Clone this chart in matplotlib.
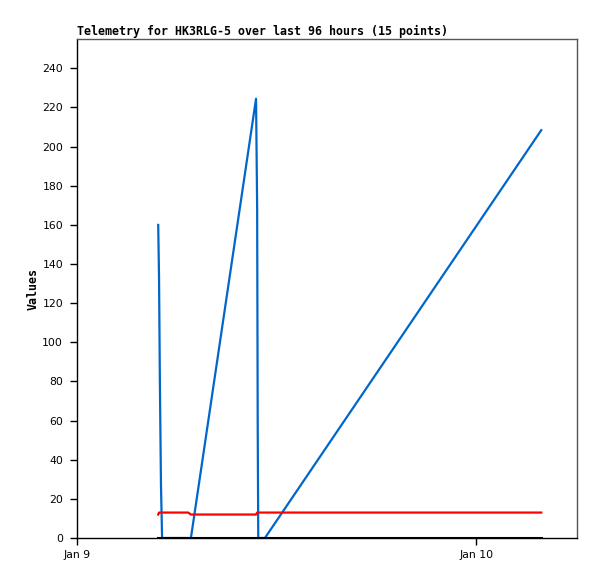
import matplotlib
matplotlib.use("Agg")
import matplotlib.pyplot as plt
import matplotlib.dates as mdates
from matplotlib.ticker import FuncFormatter
import pandas as pd

title = "Telemetry for HK3RLG-5 over last 96 hours (15 points)"
times = ["2024-01-09 04:53", "2024-01-09 04:56", "2024-01-09 04:59", "2024-01-09 05:03",
         "2024-01-09 05:07", "2024-01-09 06:41", "2024-01-09 06:51", "2024-01-09 10:46",
         "2024-01-09 10:50", "2024-01-09 10:52", "2024-01-09 10:54", "2024-01-09 11:18",
         "2024-01-10 03:55"]
blue_vals = [160, 133, 80, 27, 0, 0, 0, 224.5, 168, 57, 0, 0, 208.4]
red_vals = [12, 13, 13, 13, 13, 13, 12, 12, 13, 13, 13, 13, 13]
black_vals = [0] * 13
y_ticks = list(range(0, 241, 20))
x_start = "2024-01-09 00:00"
x_end = "2024-01-10 06:04"

t = pd.to_datetime(times)

fig = plt.figure(figsize=(5.97, 5.79), dpi=100)
ax = fig.add_axes([77/597, (579-538)/579, (577-77)/597, (538-39)/579])

ax.plot(t, blue_vals, color="#0066cc", lw=1.6, zorder=2)
ax.plot(t, red_vals, color="#ff0000", lw=1.6, zorder=3)
ax.plot(t, black_vals, color="#000000", lw=2.2, zorder=4)

ax.set_xlim(pd.Timestamp(x_start), pd.Timestamp(x_end))
ax.set_ylim(0, 255)
ax.set_yticks(y_ticks)
ax.xaxis.set_major_locator(mdates.DayLocator())
ax.xaxis.set_major_formatter(FuncFormatter(lambda v, p: f"{mdates.num2date(v):%b} {mdates.num2date(v).day}"))

for s in ["left", "bottom"]:
    ax.spines[s].set_color("black")
    ax.spines[s].set_linewidth(1)
for s in ["top", "right"]:
    ax.spines[s].set_color("#555555")
    ax.spines[s].set_linewidth(1)

ax.tick_params(axis="both", direction="out", length=5, width=1, labelsize=7.8, colors="black")
ax.tick_params(axis="y", pad=5)
ax.tick_params(axis="x", pad=4)

ax.set_title(title, family="DejaVu Sans Mono", fontweight="bold", fontsize=8.4, loc="left", pad=3)
ax.set_ylabel("Values", family="DejaVu Sans Mono", fontweight="bold", fontsize=8.4, labelpad=1.5)

fig.savefig("out.png", dpi=100)
